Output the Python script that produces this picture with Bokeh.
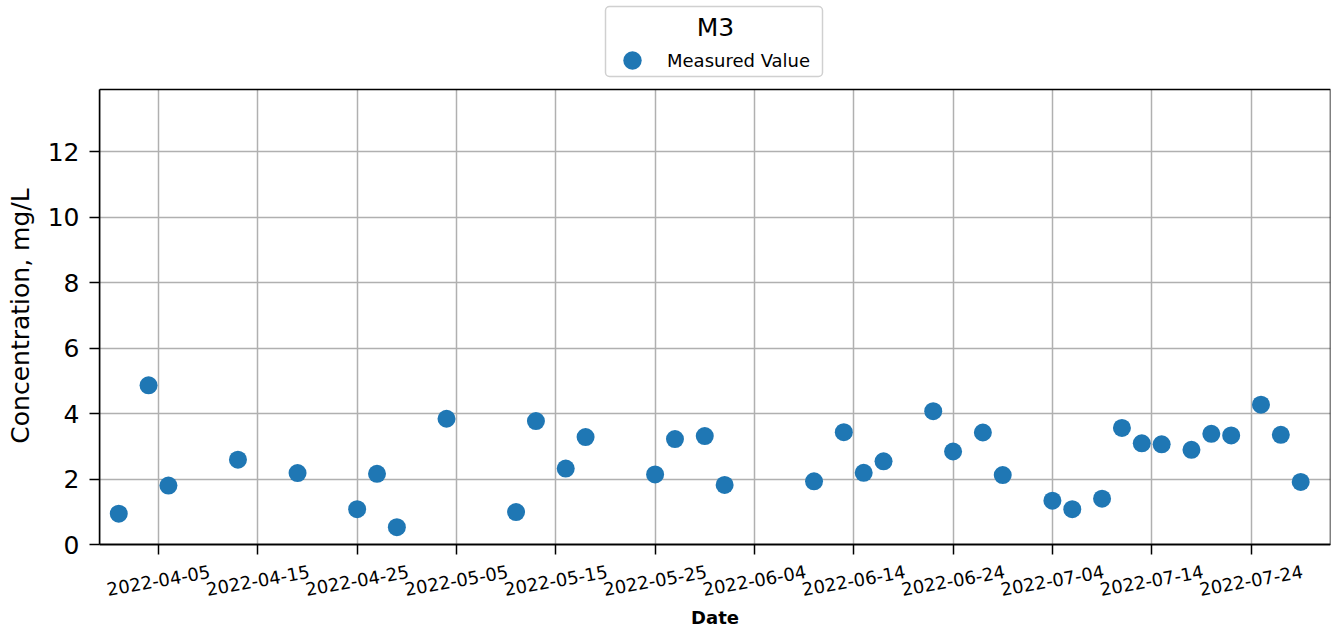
from datetime import datetime
from bokeh.plotting import figure
from bokeh.models import (Range1d, FixedTicker, CustomJSTickFormatter, LabelSet, Label,
                          Legend, LegendItem, BoxAnnotation, ColumnDataSource)
from bokeh.core.properties import value
from bokeh.embed import file_html
from bokeh.resources import INLINE

# ---- data ----
dates = ["2022-04-01", "2022-04-04", "2022-04-06", "2022-04-13", "2022-04-19", "2022-04-25",
         "2022-04-27", "2022-04-29", "2022-05-04", "2022-05-11", "2022-05-13", "2022-05-16",
         "2022-05-18", "2022-05-25", "2022-05-27", "2022-05-30", "2022-06-01", "2022-06-10",
         "2022-06-13", "2022-06-15", "2022-06-17", "2022-06-22", "2022-06-24", "2022-06-27",
         "2022-06-29", "2022-07-04", "2022-07-06", "2022-07-09", "2022-07-11", "2022-07-13",
         "2022-07-15", "2022-07-18", "2022-07-20", "2022-07-22", "2022-07-25", "2022-07-27",
         "2022-07-29"]
values = [0.94, 4.86, 1.80, 2.59, 2.18, 1.08,
          2.16, 0.53, 3.84, 0.99, 3.77, 2.32,
          3.28, 2.14, 3.22, 3.31, 1.82, 1.93,
          3.43, 2.19, 2.54, 4.07, 2.84, 3.42,
          2.12, 1.34, 1.08, 1.40, 3.56, 3.09,
          3.06, 2.89, 3.38, 3.33, 4.27, 3.35,
          1.91]
x_tick_labels = ["2022-04-05", "2022-04-15", "2022-04-25", "2022-05-05", "2022-05-15",
                 "2022-05-25", "2022-06-04", "2022-06-14", "2022-06-24", "2022-07-04",
                 "2022-07-14", "2022-07-24"]
y_ticks = [0, 2, 4, 6, 8, 10, 12]
y_axis_top = 13.89
series_name = "Measured Value"
legend_title = "M3"

FONT = "DejaVu Sans"
BLUE = "#1f77b4"


def to_dt(s):
    return datetime.strptime(s, "%Y-%m-%d")


def to_ms(d):
    return (d - datetime(1970, 1, 1)).total_seconds() * 1000.0


date_objs = [to_dt(d) for d in dates]
tick_objs = [to_dt(t) for t in x_tick_labels]
tick_ms = [to_ms(t) for t in tick_objs]

src = ColumnDataSource(data=dict(date=date_objs, val=values))
tick_src = ColumnDataSource(data=dict(x=tick_objs, text=x_tick_labels))

# The frame is extended above and below the axes box so that the legend and
# the rotated date labels lie inside it; the axes box itself spans y = 0 .. y_axis_top.
p = figure(x_axis_type="datetime",
           x_range=Range1d(datetime(2022, 3, 30, 1, 26), datetime(2022, 8, 1, 0, 0)),
           y_range=Range1d(-2.534, 16.489),
           frame_width=1231, frame_height=623,
           min_border_left=99, min_border_right=5, min_border_top=4, min_border_bottom=4,
           output_backend="svg", toolbar_location=None)

p.background_fill_color = "white"
p.border_fill_color = "white"
p.outline_line_color = None

# axes
for ax in (p.xaxis[0], p.yaxis[0]):
    ax.axis_line_color = "black"
    ax.axis_line_width = 1.5
    ax.major_tick_line_color = "black"
    ax.major_tick_line_width = 1.5
    ax.major_tick_out = 10
    ax.major_tick_in = 0
    ax.minor_tick_out = 0
    ax.minor_tick_in = 0
    ax.axis_label_text_font = FONT
    ax.axis_label_text_color = "black"
    ax.major_label_text_font = FONT
    ax.major_label_text_color = "black"

p.yaxis.ticker = FixedTicker(ticks=y_ticks)
p.yaxis.bounds = (0, y_axis_top)
p.yaxis.major_label_text_font_size = "25px"
p.yaxis.major_label_standoff = 10
p.yaxis.axis_label = "Concentration, mg/L"
p.yaxis.axis_label_text_font_size = "25px"
p.yaxis.axis_label_text_font_style = "normal"
p.yaxis.axis_label_standoff = 10

p.xaxis.fixed_location = 0
p.xaxis.ticker = FixedTicker(ticks=tick_ms)
p.xaxis.formatter = CustomJSTickFormatter(code="return ''")
p.xaxis.major_label_text_font_size = "18px"
p.xaxis.major_label_standoff = 5
p.xaxis.axis_label = "Date"
p.xaxis.axis_label_text_font_size = "18px"
p.xaxis.axis_label_text_font_style = "bold"
p.xaxis.axis_label_standoff = 52

p.xgrid.ticker = FixedTicker(ticks=tick_ms)
p.ygrid.ticker = FixedTicker(ticks=y_ticks)
for g in (p.xgrid[0], p.ygrid[0]):
    g.grid_line_color = "#b0b0b0"
    g.grid_line_width = 1.5
    g.grid_line_alpha = 1.0

try:
    p.xgrid[0].cross_bounds = (0, y_axis_top)
    need_masks = False
except Exception:
    need_masks = True

if need_masks:
    # hide the parts of the vertical grid lines outside the axes box
    top_mask = BoxAnnotation(bottom=y_axis_top, fill_color="white", fill_alpha=1.0,
                             line_alpha=0, level="underlay")
    bottom_mask = BoxAnnotation(top=0, fill_color="white", fill_alpha=1.0,
                                line_alpha=0, level="underlay")
    p.add_layout(top_mask)
    p.add_layout(bottom_mask)

r = p.scatter(x="date", y="val", source=src, size=18, fill_color=BLUE, line_color=BLUE,
              line_width=0)

# axes box (spines)
spines = BoxAnnotation(bottom=0, top=y_axis_top, fill_alpha=0,
                       line_color="black", line_alpha=1.0, line_width=1.5)
p.add_layout(spines)

# rotated date tick labels, centred on their ticks
tick_labels = LabelSet(x="x", y=47, y_units="screen", text="text", source=tick_src,
                       angle=10, angle_units="deg", text_align="center",
                       text_baseline="middle", text_font=value(FONT),
                       text_font_size="18px", text_color="black")
p.add_layout(tick_labels)

# legend frame, title and entry (above the axes box)
box = BoxAnnotation(left=506, right=723, bottom=551, top=621,
                    left_units="screen", right_units="screen",
                    top_units="screen", bottom_units="screen",
                    fill_color="white", fill_alpha=1.0,
                    line_color="#d0d0d0", line_alpha=1.0, line_width=1.5, border_radius=4)
p.add_layout(box)

title_lbl = Label(x=616, y=600, x_units="screen", y_units="screen", text=legend_title,
                  text_align="center", text_baseline="middle", text_font=FONT,
                  text_font_size="25px", text_color="black")
p.add_layout(title_lbl)

legend = Legend(items=[LegendItem(label=series_name, renderers=[r])],
                location=(510, 544), glyph_width=46, glyph_height=46,
                label_standoff=12, label_text_font=FONT, label_text_font_size="18px",
                label_text_color="black", padding=0, margin=0, spacing=0,
                border_line_color=None, background_fill_alpha=0)
p.add_layout(legend)

open("out.html", "w").write(file_html(p, INLINE))
